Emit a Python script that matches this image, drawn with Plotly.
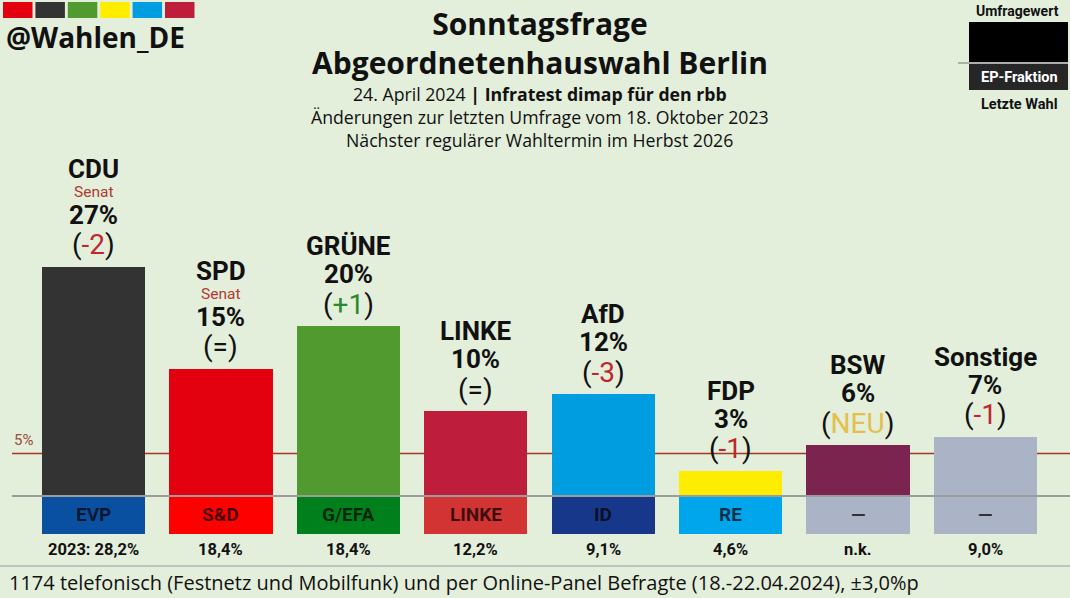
import plotly.graph_objects as go

# ---------------- data ----------------
parties = ["CDU", "SPD", "GRÜNE", "LINKE", "AfD", "FDP", "BSW", "Sonstige"]
values = [27, 15, 20, 10, 12, 3, 6, 7]
changes = ["-2", "=", "+1", "=", "-3", "-1", "NEU", "-1"]
senat = [True, True, False, False, False, False, False, False]
ep_groups = ["EVP", "S&D", "G/EFA", "LINKE", "ID", "RE", "—", "—"]
last_election = ["2023: 28,2%", "18,4%", "18,4%", "12,2%", "9,1%", "4,6%", "n.k.", "9,0%"]

bar_colors = ["#333333", "#e3000f", "#509a30", "#be1e3c", "#009ee0", "#ffed00", "#7b2450", "#aab4c6"]
ep_colors = ["#0a50a0", "#ff0000", "#00801c", "#d23333", "#17388a", "#00a6ec", "#aab4c6", "#aab4c6"]

W, H = 1070, 598
BG = "#e3eedb"
EP_DEPTH = 4.45
FONT = "Roboto"
TFONT = "Open Sans"

def px(p):
    return p / W

def py(p):
    return 1 - p / H

idx = list(range(len(parties)))

fig = go.Figure()
fig.add_trace(go.Bar(x=idx, y=values, marker=dict(color=bar_colors, line=dict(width=0)),
                     width=0.81, hoverinfo="skip", showlegend=False))
fig.add_trace(go.Bar(x=idx, y=[-EP_DEPTH] * len(idx), marker=dict(color=ep_colors, line=dict(width=0)),
                     width=0.81, hoverinfo="skip", showlegend=False))

ann = []
shapes = []

def chg_text(c):
    if c == "=":
        return "(=)"
    if c == "NEU":
        col = "#e2c04a"
    elif c.startswith("+"):
        col = "#2a8a2a"
    else:
        col = "#c0262d"
    return f"(<span style='color:{col}'>{c}</span>)"

def A(**kw):
    kw.setdefault("showarrow", False)
    kw.setdefault("xanchor", "center")
    kw.setdefault("yanchor", "middle")
    ann.append(kw)

for i, (p, v, c, s) in enumerate(zip(parties, values, changes, senat)):
    A(x=i, y=v, xref="x", yref="y", text=chg_text(c), yshift=22,
      font=dict(family=FONT, size=28, color="#111111"))
    A(x=i, y=v, xref="x", yref="y", text=f"<b>{v}%</b>", yshift=52,
      font=dict(family=FONT, size=26, color="#111111"))
    if s:
        A(x=i, y=v, xref="x", yref="y", text="Senat", yshift=75,
          font=dict(family=FONT, size=15.5, color="#b03a32"))
        A(x=i, y=v, xref="x", yref="y", text=f"<b>{p}</b>", yshift=98,
          font=dict(family=FONT, size=26, color="#111111"))
    else:
        A(x=i, y=v, xref="x", yref="y", text=f"<b>{p}</b>", yshift=80,
          font=dict(family=FONT, size=26, color="#111111"))
    # EP group label
    A(x=i, y=-EP_DEPTH / 2, xref="x", yref="y", text=f"<b>{ep_groups[i]}</b>",
      font=dict(family=FONT, size=19, color="rgba(0,0,0,0.72)"))
    # last election
    A(x=i, y=py(549), xref="x", yref="paper", text=f"<b>{last_election[i]}</b>",
      font=dict(family=FONT, size=16.5, color="#111111"))

# 5% threshold line
shapes.append(dict(type="line", xref="paper", yref="y", x0=px(12), x1=1, y0=5, y1=5,
                   line=dict(color="#a83626", width=1.5), layer="below"))
A(x=px(24), y=5, xref="paper", yref="y", text="5%", yshift=14,
  font=dict(family=FONT, size=15, color="#9e4a3a"))
# baseline
shapes.append(dict(type="line", xref="paper", yref="y", x0=px(12), x1=1, y0=0, y1=0,
                   line=dict(color="#9c9c9c", width=2), layer="above"))
# footer separator
shapes.append(dict(type="line", xref="paper", yref="paper", x0=0, x1=1, y0=py(566), y1=py(566),
                   line=dict(color="#b5b5b5", width=1.5)))

# logo squares
logo_cols = ["#e3000f", "#333333", "#509a30", "#ffed00", "#009ee0", "#be1e3c"]
for k, col in enumerate(logo_cols):
    x0 = 3 + k * 32.4
    shapes.append(dict(type="rect", xref="paper", yref="paper", x0=px(x0), x1=px(x0 + 29.5),
                       y0=py(18), y1=py(2), fillcolor=col, line=dict(width=0)))
A(x=px(4), y=py(37), xref="paper", yref="paper", text="<b>@Wahlen_DE</b>", xanchor="left",
  font=dict(family=TFONT, size=28, color="#111111"))

# titles (two lines in one text block)
A(x=px(540), y=py(43), xref="paper", yref="paper",
  text="<b>Sonntagsfrage</b><br><b>Abgeordnetenhauswahl Berlin</b>",
  font=dict(family=TFONT, size=30, color="#111111"))
A(x=px(540), y=py(94), xref="paper", yref="paper",
  text="24. April 2024 <b>|</b> <b>Infratest dimap für den rbb</b>",
  font=dict(family="Open Sans", size=17.7, color="#111111"))
A(x=px(540), y=py(117), xref="paper", yref="paper",
  text="Änderungen zur letzten Umfrage vom 18. Oktober 2023",
  font=dict(family="Open Sans", size=17.7, color="#111111"))
A(x=px(540), y=py(140), xref="paper", yref="paper",
  text="Nächster regulärer Wahltermin im Herbst 2026",
  font=dict(family="Open Sans", size=17.7, color="#111111"))

# legend (top right)
A(x=px(1017), y=py(11), xref="paper", yref="paper", text="<b>Umfragewert</b>",
  font=dict(family=FONT, size=14, color="#111111"))
shapes.append(dict(type="rect", xref="paper", yref="paper", x0=px(969), x1=px(1068), y0=py(62), y1=py(22),
                   fillcolor="#000000", line=dict(width=0)))
shapes.append(dict(type="line", xref="paper", yref="paper", x0=px(958), x1=px(1068), y0=py(63), y1=py(63),
                   line=dict(color="#9a9a9a", width=1.5)))
shapes.append(dict(type="rect", xref="paper", yref="paper", x0=px(969), x1=px(1068), y0=py(90), y1=py(64),
                   fillcolor="#262626", line=dict(width=0)))
A(x=px(1019), y=py(77), xref="paper", yref="paper", text="<b>EP-Fraktion</b>",
  font=dict(family=FONT, size=14.5, color="#ffffff"))
A(x=px(1019), y=py(104), xref="paper", yref="paper", text="<b>Letzte Wahl</b>",
  font=dict(family=FONT, size=14.5, color="#111111"))

# footer
A(x=px(7), y=py(582), xref="paper", yref="paper", xanchor="left",
  text="1174 telefonisch (Festnetz und Mobilfunk) und per Online-Panel Befragte (18.-22.04.2024), ±3,0%p",
  font=dict(family="Open Sans", size=20, color="#111111"))

spacing = 127.4
x_left = -93.5 / spacing
x_right = (W - 93.5) / spacing
y_per = 8.5
y_top = 496 / y_per
y_bot = -(H - 496) / y_per

fig.update_layout(
    width=W, height=H,
    margin=dict(l=0, r=0, t=0, b=0),
    paper_bgcolor=BG, plot_bgcolor=BG,
    barmode="overlay",
    bargap=0,
    showlegend=False,
    xaxis=dict(range=[x_left, x_right], visible=False, fixedrange=True),
    yaxis=dict(range=[y_bot, y_top], visible=False, fixedrange=True),
    annotations=ann,
    shapes=shapes,
)

fig.write_html("out.html", config={"displayModeBar": False})
